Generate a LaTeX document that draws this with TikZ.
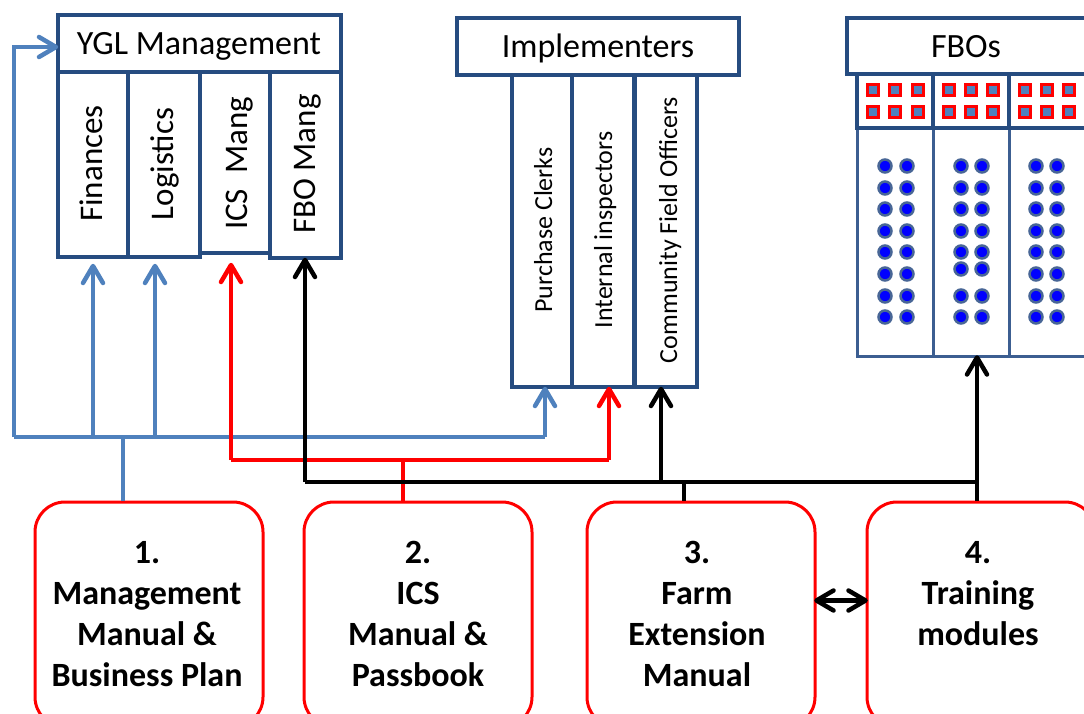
\documentclass[tikz,border=0pt]{standalone}
\usepackage{fontspec}
\setmainfont{Carlito}
\usetikzlibrary{arrows.meta}
\definecolor{boxblue}{RGB}{38,76,128}
\definecolor{cellblue}{RGB}{60,94,145}
\definecolor{lineblue}{RGB}{79,129,189}
\definecolor{dotrim}{RGB}{72,102,150}
\definecolor{sqfill}{RGB}{79,129,189}
\newcommand\hup[2]{\draw[conn,draw=#1,line join=round,line cap=round] ([shift={(-10,17)}]#2) -- (#2) -- ([shift={(10,17)}]#2);}
\newcommand\hright[2]{\draw[conn,draw=#1,line join=round,line cap=round] ([shift={(-17,-10)}]#2) -- (#2) -- ([shift={(-17,10)}]#2);}
\newcommand\hleft[2]{\draw[conn,draw=#1,line join=round,line cap=round] ([shift={(17,-10)}]#2) -- (#2) -- ([shift={(17,10)}]#2);}
\begin{document}
\begin{tikzpicture}[x=1pt,y=-1pt,
  hdr/.style={draw=boxblue,line width=4pt,fill=white,inner sep=0pt},
  col/.style={draw=boxblue,line width=4pt,fill=white,inner sep=0pt},
  cell/.style={draw=cellblue,line width=3pt,fill=white,inner sep=0pt},
  hdrtext/.style={inner sep=0pt,anchor=base,font=\fontsize{34}{40}\selectfont},
  coltext/.style={inner sep=0pt,anchor=base,rotate=90,font=\fontsize{33}{40}\selectfont},
  imptext/.style={inner sep=0pt,anchor=base,rotate=90,font=\fontsize{26}{32}\selectfont},
  doc/.style={draw=red,line width=3pt,fill=white,rounded corners=30pt,inner sep=0pt,minimum width=228pt,minimum height=225pt},
  doctext/.style={inner sep=0pt,anchor=north,align=center,font=\bfseries\fontsize{34}{41}\selectfont},
  conn/.style={line width=4.5pt},
  blueconn/.style={conn,draw=lineblue},
  redconn/.style={conn,draw=red},
  blackconn/.style={conn,draw=black},
  dot/.style={circle,fill=blue,draw=dotrim,line width=2.5pt,minimum size=13pt,inner sep=0pt},
  sq/.style={rectangle,fill=sqfill,draw=red,line width=3pt,minimum size=11pt,inner sep=0pt}
]
\useasboundingbox (0,0) rectangle (1084,714);
\clip (0,0) rectangle (1084,714);

% ---------- YGL Management ----------
\node[col,minimum width=70pt,minimum height=185pt] (fin) at (93,164.5) {};
\node[col,minimum width=72pt,minimum height=185pt] (log) at (164,164.5) {};
\node[col,minimum width=70pt,minimum height=181pt] (ics) at (235,162.5) {};
\node[col,minimum width=71pt,minimum height=186pt] (fbo) at (305.5,165) {};
\node[hdr,minimum width=283pt,minimum height=57pt] (ygl) at (199.5,43.5) {};
\node[hdrtext] (tygl) at (199,55) {YGL Management};
\node[coltext] (tfin) at (102,163.5) {Finances};
\node[coltext] (tlog) at (173,164) {Logistics};
\node[coltext] (tics) at (247,163.5) {ICS\ \ Mang};
\node[coltext] (tfbo) at (315,164) {FBO Mang};

% ---------- Implementers ----------
\node[col,minimum width=60pt,minimum height=312pt] (pc) at (542,231) {};
\node[col,minimum width=62pt,minimum height=312pt] (ii) at (603,231) {};
\node[col,minimum width=62pt,minimum height=312pt] (cfo) at (666,231) {};
\node[hdr,minimum width=282pt,minimum height=57pt] (imp) at (598,46.5) {};
\node[hdrtext] (timp) at (598,58) {Implementers};
\node[imptext] (tpc) at (552,230) {Purchase Clerks};
\node[imptext] (tii) at (612,230) {Internal inspectors};
\node[imptext] (tcfo) at (677,230) {Community Field Officers};

% ---------- FBOs ----------
\node[cell,minimum width=76pt,minimum height=228pt] (l1) at (895,242) {};
\node[cell,minimum width=76pt,minimum height=228pt] (l2) at (971,242) {};
\node[cell,minimum width=81pt,minimum height=228pt] (l3) at (1049.5,242) {};
\node[col,minimum width=76pt,minimum height=54pt] (u1) at (895,101) {};
\node[col,minimum width=76pt,minimum height=54pt] (u2) at (971,101) {};
\node[col,minimum width=81pt,minimum height=54pt] (u3) at (1049.5,101) {};
\node[hdr,minimum width=248pt,minimum height=56pt] (fbos) at (971,46) {};
\node[hdrtext] (tfbos) at (966,58) {FBOs};

% squares
\foreach \x [count=\i] in {873,895,918,949,971,993,1025,1047,1069}{
  \node[sq] (sqa\i) at (\x,90.5) {};
  \node[sq] (sqb\i) at (\x,112.5) {};
}
% dots
\foreach \x [count=\i] in {885,907,1036,1057}{
  \foreach \y [count=\j] in {166,188,209,231,252,274,296,317}{
    \node[dot] (d\i-\j) at (\x,\y) {};
  }
}
\foreach \x [count=\i] in {961,982}{
  \foreach \y [count=\j] in {166,188,209,231,252,269,296,317}{
    \node[dot] (e\i-\j) at (\x,\y) {};
  }
}

% ---------- Documents ----------
\node[doc] (b1) at (149,614.5) {};
\node[doc] (b2) at (418,614.5) {};
\node[doc] (b3) at (701,614.5) {};
\node[doc] (b4) at (981,614.5) {};
\node[doctext] (tb1) at (147,541) {1.\\Management\\Manual \&\\Business Plan};
\node[doctext] (tb2) at (418,541) {2.\\ICS\\Manual \&\\Passbook};
\node[doctext] (tb3) at (697,541) {3.\\Farm\\Extension\\Manual};
\node[doctext] (tb4) at (978,541) {4.\\Training\\modules};

% ---------- Connectors ----------
% blue
\coordinate (bL) at (14,437);
\coordinate (bR) at (545,437);
\coordinate (bS) at (123,437);
\coordinate (bT) at (14,47);
\coordinate (bLog) at (155,437);
\coordinate (tYgl) at (bT -| ygl.west);
\coordinate (tFin) at ([yshift=-7pt]fin.south);
\coordinate (tLog) at ([yshift=-7pt]bLog |- log.south);
\coordinate (tPc) at (bR |- pc.south);
\draw[blueconn] (bL) -- (bR);
\draw[blueconn] (bL) -- (bT) -- (tYgl);
\draw[blueconn] (fin.south |- bL) -- (tFin);
\draw[blueconn] (bLog) -- (tLog);
\draw[blueconn] (bR) -- (tPc);
\draw[blueconn] (b1.north -| bS) -- (bS);
\hright{lineblue}{tYgl}
\hup{lineblue}{tFin}
\hup{lineblue}{tLog}
\hup{lineblue}{tPc}

% red
\coordinate (rL) at (231,460);
\coordinate (rR) at (609,460);
\coordinate (rS) at (403,460);
\coordinate (tIcs) at ([yshift=-10pt]rL |- ics.south);
\coordinate (tIi) at (rR |- ii.south);
\draw[redconn] (rL) -- (rR);
\draw[redconn] (rL) -- (tIcs);
\draw[redconn] (rR) -- (tIi);
\draw[redconn] (b2.north -| rS) -- (rS);
\hup{red}{tIcs}
\hup{red}{tIi}

% black
\coordinate (kL) at (305,482);
\coordinate (kR) at (977,482);
\coordinate (kS) at (684,482);
\coordinate (kC) at (661,482);
\coordinate (tFbo) at (kL |- fbo.south);
\coordinate (tCfo) at (kC |- cfo.south);
\coordinate (tFbos) at (kR |- l2.south);
\draw[blackconn] (kL) -- (kR);
\draw[blackconn] (kL) -- (tFbo);
\draw[blackconn] (kC) -- (tCfo);
\draw[blackconn] (b4.north -| kR) -- (tFbos);
\draw[blackconn] (b3.north -| kS) -- (kS);
\hup{black}{tFbo}
\hup{black}{tCfo}
\hup{black}{tFbos}

% double arrow
\coordinate (dA) at ([yshift=14pt]b3.east);
\coordinate (dB) at (dA -| b4.west);
\draw[blackconn] (dA) -- (dB);
\hleft{black}{dA}
\hright{black}{dB}
\end{tikzpicture}
\end{document}
